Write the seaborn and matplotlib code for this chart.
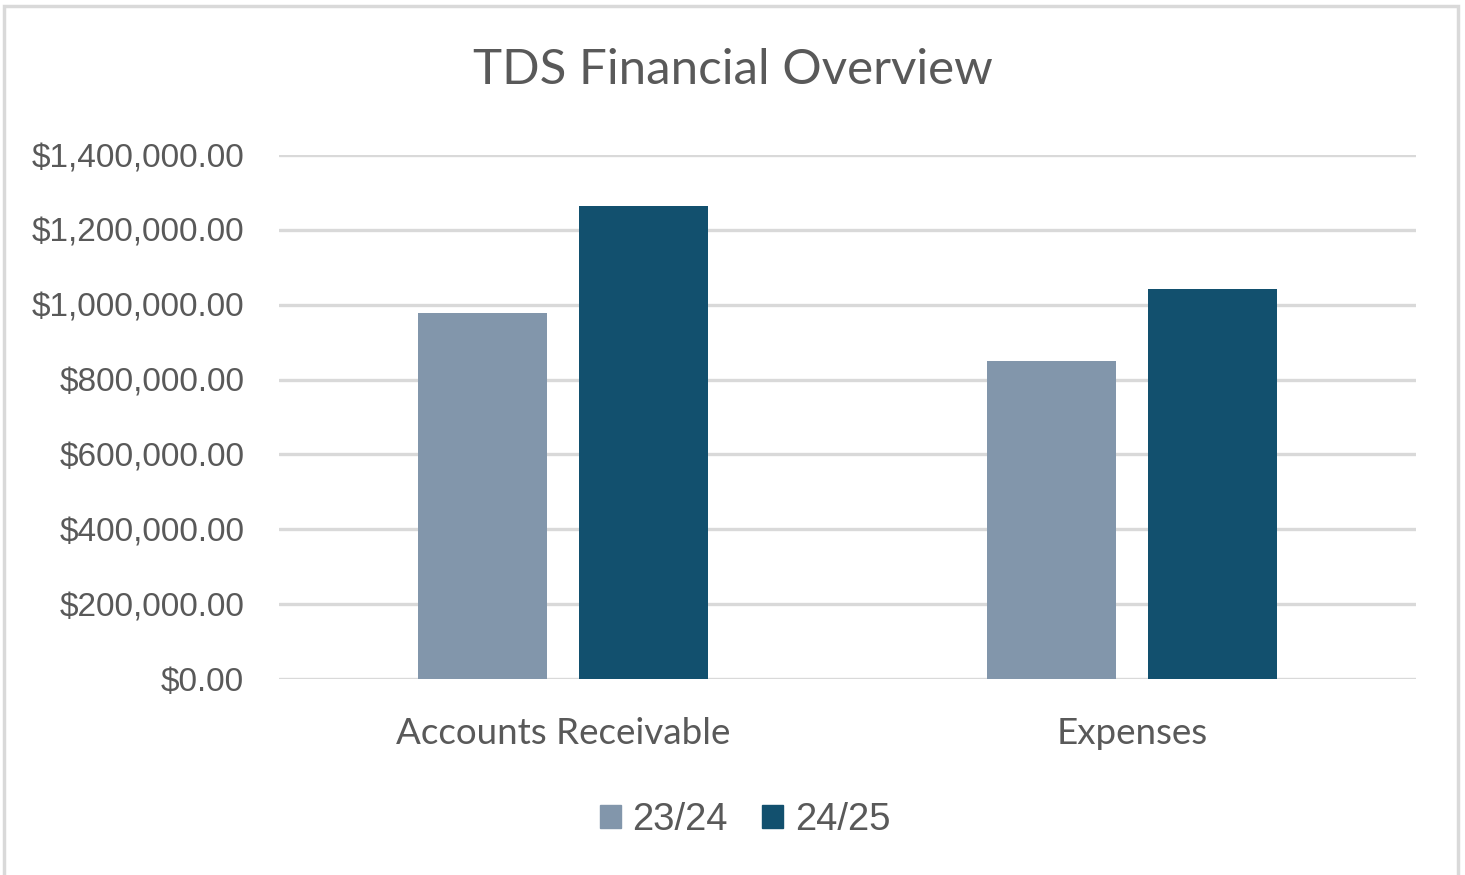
import numpy as np
import pandas as pd
import matplotlib.pyplot as plt
import matplotlib.patches as mpatches
from matplotlib.ticker import FuncFormatter
import seaborn as sns

categories = ["Accounts Receivable", "Expenses"]
years = ["23/24", "24/25"]
values_2324 = [978000, 850000]
values_2425 = [1264000, 1042000]
colors = ["#8296AB", "#12506E"]

df = pd.DataFrame({
    "category": categories * 2,
    "year": [years[0]] * 2 + [years[1]] * 2,
    "value": values_2324 + values_2425,
})

sns.set_style("white")
plt.rcParams["font.family"] = ["Liberation Sans", "DejaVu Sans"]
text_col = "#595959"

fig = plt.figure(figsize=(14.65, 8.75), dpi=100)
ax = fig.add_axes([279/1465, 1-679/875, (1416-279)/1465, (679-155)/875])

sns.barplot(data=df, x="category", y="value", hue="year", palette=colors,
            saturation=1, width=0.566, gap=0.2, ax=ax, legend=False,
            zorder=3, edgecolor="none")

ax.set_ylim(0, 1400000)
ax.set_xlim(-0.5, 1.5)
ax.set_yticks(np.arange(0, 1400001, 200000))
ax.yaxis.set_major_formatter(FuncFormatter(lambda v, p: "${:,.2f}".format(v)))
ax.grid(axis="y", color="#D9D9D9", linewidth=2.4, zorder=0)
ax.set_axisbelow(True)
for s in ax.spines.values():
    s.set_visible(False)
ax.tick_params(axis="y", length=0, pad=25, labelsize=24, labelcolor=text_col)
ax.tick_params(axis="x", length=0, pad=27, labelsize=26.5, labelcolor=text_col)
for lbl in ax.get_xticklabels():
    lbl.set_family(["Lato", "DejaVu Sans"])
ax.set_xlabel("")
ax.set_ylabel("")

fig.text(0.5, 1-70/875, "TDS Financial Overview", ha="center", va="center",
         fontsize=35.5, color=text_col, family=["Lato", "DejaVu Sans"])

handles = [mpatches.Patch(color=c, label=y) for c, y in zip(colors, years)]
fig.legend(handles=handles, loc="center", bbox_to_anchor=(745/1465, 1-820/875),
           ncol=2, frameon=False, fontsize=27.5, labelcolor=text_col,
           handlelength=0.55, handleheight=0.55, handletextpad=0.3,
           columnspacing=0.9)

# outer chart border
fig.patches.append(mpatches.Rectangle((4/1465, -0.05), (1458-4)/1465, 1.05-6/875,
                                      transform=fig.transFigure, fill=False,
                                      edgecolor="#D9D9D9", linewidth=2.5))

fig.savefig("out.png", dpi=100)
